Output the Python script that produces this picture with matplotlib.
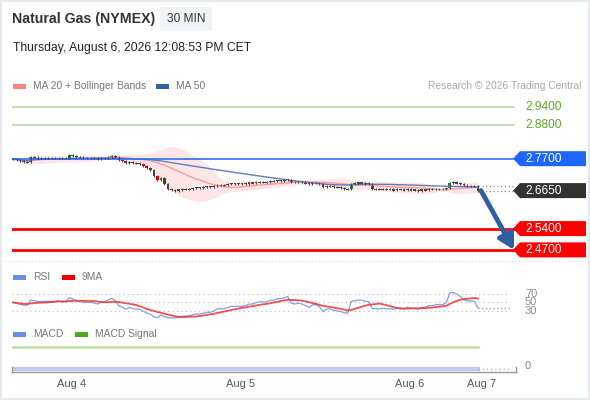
import numpy as np
import pandas as pd
import matplotlib
matplotlib.use('Agg')
import matplotlib.pyplot as plt
from matplotlib.patches import Rectangle, Polygon
from matplotlib.lines import Line2D
import matplotlib.transforms as mtrans

plt.rcParams['font.family'] = ['Liberation Sans', 'DejaVu Sans']

# 30 min closes
closes = [2.769, 2.766, 2.762, 2.759, 2.759, 2.776, 2.774, 2.772, 2.772, 2.772,
          2.772, 2.771, 2.772, 2.772, 2.771, 2.772, 2.781, 2.779, 2.776, 2.774,
          2.772, 2.772, 2.772, 2.771, 2.769, 2.772, 2.772, 2.776, 2.779, 2.776,
          2.766, 2.762, 2.756, 2.759, 2.756, 2.754, 2.753, 2.746, 2.739, 2.733,
          2.713, 2.700, 2.706, 2.687, 2.670, 2.667, 2.665, 2.667, 2.669, 2.670,
          2.670, 2.672, 2.674, 2.674, 2.675, 2.677, 2.677, 2.679, 2.683, 2.683,
          2.683, 2.685, 2.687, 2.687, 2.687, 2.687, 2.688, 2.690, 2.690, 2.692,
          2.693, 2.693, 2.693, 2.695, 2.695, 2.697, 2.697, 2.698, 2.700, 2.693,
          2.692, 2.693, 2.692, 2.690, 2.687, 2.690, 2.690, 2.687, 2.677, 2.680,
          2.680, 2.677, 2.675, 2.674, 2.670, 2.669, 2.687, 2.688, 2.690, 2.690,
          2.688, 2.687, 2.670, 2.670, 2.669, 2.670, 2.669, 2.669, 2.667, 2.669,
          2.669, 2.667, 2.669, 2.667, 2.667, 2.665, 2.667, 2.667, 2.669, 2.669,
          2.670, 2.670, 2.670, 2.672, 2.690, 2.692, 2.690, 2.687, 2.682, 2.680,
          2.680, 2.679, 2.665]

resistances = [2.94, 2.88]
pivot = 2.77
supports = [2.54, 2.47]
last_price = 2.665

day_ticks = [16.5, 64.5, 112.5, 133]
day_labels = ['Aug 4', 'Aug 5', 'Aug 6', 'Aug 7']

macd_line = [0.0] * len(closes)
macd_signal = [1.0] * len(closes)

W, H = 590, 400
fig = plt.figure(figsize=(W / 100, H / 100), dpi=100)
fig.patch.set_facecolor('white')

def fx(x):
    return x / W

def fy(y):
    return 1 - y / H

n = len(closes)
step = (478 - 13) / (n - 1)
xl = (-(13 - 12) / step, (515 - 13) / step)

def px2i(x):
    return (x - 13) / step

c = pd.Series(closes)
o = c.shift(1).fillna(c.iloc[0])
ma20 = c.rolling(20, min_periods=1).mean()
sd20 = c.rolling(20, min_periods=2).std().bfill()
ma50 = c.rolling(50, min_periods=1).mean()

# wilder rsi, started neutral
d = c.diff().fillna(0).values
g, l = 0.003, 0.003
rsi_vals = []
for dv in d:
    g = (g * 13 + max(dv, 0)) / 14
    l = (l * 13 + max(-dv, 0)) / 14
    rsi_vals.append(100 - 100 / (1 + g / l))
rsi = pd.Series(rsi_vals)
rsi_ma = rsi.rolling(9, min_periods=1).mean()

# frame
fig.add_artist(Rectangle((0, 0), 1, 1, transform=fig.transFigure, fill=False,
                         edgecolor='#e6e9ee', lw=3))

# header
fig.text(fx(12), fy(19), 'Natural Gas (NYMEX)', fontsize=10.2, fontweight='bold',
         color='#333333', va='center')
fig.add_artist(Rectangle((fx(160), fy(31)), 52 / W, 24 / H, transform=fig.transFigure,
                         facecolor='#f1f3f5', edgecolor='none'))
fig.text(fx(186), fy(19), '30 MIN', fontsize=8.6, color='#333333', va='center', ha='center')
fig.text(fx(13), fy(48), 'Thursday, August 6, 2026 12:08:53 PM CET', fontsize=8.7,
         color='#222222', va='center')

def legend_item(x, y, color, label):
    fig.add_artist(Rectangle((fx(x), fy(y + 2.5)), 13 / W, 5 / H, transform=fig.transFigure,
                             facecolor=color, edgecolor='none'))
    fig.text(fx(x + 20), fy(y), label, fontsize=7.4, color='#777777', va='center')

legend_item(13, 86, '#ff8080', 'MA 20 + Bollinger Bands')
legend_item(156, 86, '#3a5fa0', 'MA 50')
fig.text(fx(581), fy(86), 'Research \u00a9 2026 Trading Central', fontsize=7.4,
         color='#aaaaaa', va='center', ha='right')

# main price panel
ax = fig.add_axes([fx(12), fy(262), (515 - 12) / W, (262 - 95) / H])
ax.set_xlim(*xl)
ax.set_ylim(2.4301, 2.9795)
ax.axis('off')

idx = np.arange(n)
ax.fill_between(idx, ma20 - 2 * sd20, ma20 + 2 * sd20, color='#ffdcdc', alpha=0.7, lw=0)
ax.plot(idx, ma20, color='#ff9a9a', lw=1)
ax.plot(idx, ma50, color='#5a7fc0', lw=1)

for r in resistances:
    ax.axhline(r, color='#b7dca3', lw=1.2)
    ax.text(px2i(525), r, f'{r:.4f}', color='#5ba829', fontsize=8.6, va='center', clip_on=False)
ax.axhline(pivot, color='#2f6ff0', lw=1.2)
for s in supports:
    ax.axhline(s, color='#ff0000', lw=2)

ppx = 304.0
hh = 7.5 / ppx

def tag(price, color, text):
    pts = [(px2i(513), price), (px2i(520), price + hh), (px2i(586), price + hh),
           (px2i(586), price - hh), (px2i(520), price - hh)]
    ax.add_patch(Polygon(pts, closed=True, facecolor=color, edgecolor='none', clip_on=False))
    ax.text(px2i(525), price, text, color='white', fontsize=8.6, va='center', clip_on=False)

tag(pivot, '#1f66ff', f'{pivot:.4f}')
tag(last_price, '#333333', f'{last_price:.4f}')
for s in supports:
    tag(s, '#ff0000', f'{s:.4f}')

# last candle dotted guides
for v in (o.iloc[-1], c.iloc[-1]):
    ax.plot([n - 1, px2i(513)], [v, v], color='#888888', lw=0.9, ls=(0, (1, 2)), clip_on=False)

# candles
for i in range(n):
    oi, ci = o.iloc[i], c.iloc[i]
    hi = max(oi, ci) + 0.004
    lo = min(oi, ci) - 0.003
    ax.vlines(i, lo, hi, color='#444444', lw=0.8)
    diff = ci - oi
    if abs(diff) < 0.0025:
        col = '#444444'
        bot, ht = ci - 0.0017, 0.0034
    else:
        col = '#1f8a2e' if diff > 0 else '#e00000'
        bot, ht = oi, diff
    ax.bar(i, ht, bottom=bot, width=0.8, color=col, lw=0)

ax.annotate('', xy=(px2i(514), supports[-1]), xytext=(px2i(481), last_price),
            arrowprops=dict(arrowstyle='-|>,head_length=0.9,head_width=0.5', lw=3.5,
                            color='#2f5f9f', shrinkA=0, shrinkB=0), annotation_clip=False)

# separator
fig.add_artist(Line2D([fx(5), fx(585)], [fy(261), fy(261)], transform=fig.transFigure,
                      color='#dddddd', lw=0.8, ls=(0, (1, 2))))

# RSI panel
legend_item(13, 277, '#6a8fe0', 'RSI')
legend_item(62, 277, '#ee0000', '9MA')
ar = fig.add_axes([fx(12), fy(322), (515 - 12) / W, (322 - 285) / H])
ar.set_xlim(*xl)
ar.set_ylim(2.4, 92.7)
ar.axis('off')
for lv in (70, 50, 30):
    ar.plot([xl[0], px2i(510)], [lv, lv], color='#bbbbbb', lw=0.8, ls=(0, (1, 3)))
    ar.text(px2i(525), lv, str(lv), color='#888888', fontsize=8, va='center', clip_on=False)
ar.plot(idx, rsi, color='#7f9fe8', lw=0.9)
ar.plot(idx, rsi_ma, color='#f03030', lw=1.3, alpha=0.85)
ar.plot([n - 1, px2i(510)], [rsi.iloc[-1], rsi.iloc[-1]], color='#7f9fe8', lw=0.9, ls=(0, (1, 2)))

# MACD panel
legend_item(13, 334, '#6a8fe0', 'MACD')
legend_item(75, 334, '#4caa1e', 'MACD Signal')
am = fig.add_axes([fx(12), fy(375), (515 - 12) / W, (375 - 340) / H])
am.set_xlim(*xl)
am.set_ylim(-0.273, 1.318)
am.axis('off')
am.plot(idx, macd_signal, color='#b9dca4', lw=1.8)
am.plot(idx, macd_line, color='#bccbef', lw=3)
am.plot([n - 1, px2i(510)], [0, 0], color='#9fb3e8', lw=1, ls=(0, (1, 2)))
am.text(px2i(525), 0, '0', color='#888888', fontsize=8, va='baseline', clip_on=False)

# time axis
fig.add_artist(Line2D([fx(12), fx(516)], [fy(372), fy(372)], transform=fig.transFigure,
                      color='#999999', lw=1))
for xe in (12, 516):
    fig.add_artist(Line2D([fx(xe), fx(xe)], [fy(372), fy(367)], transform=fig.transFigure,
                          color='#999999', lw=1))
tt = mtrans.blended_transform_factory(am.transData, fig.transFigure)
for t, lab in zip(day_ticks, day_labels):
    am.text(t, fy(384), lab, transform=tt, ha='center', va='center', fontsize=8,
            color='#555555', clip_on=False)

fig.savefig('out.png', dpi=100)
